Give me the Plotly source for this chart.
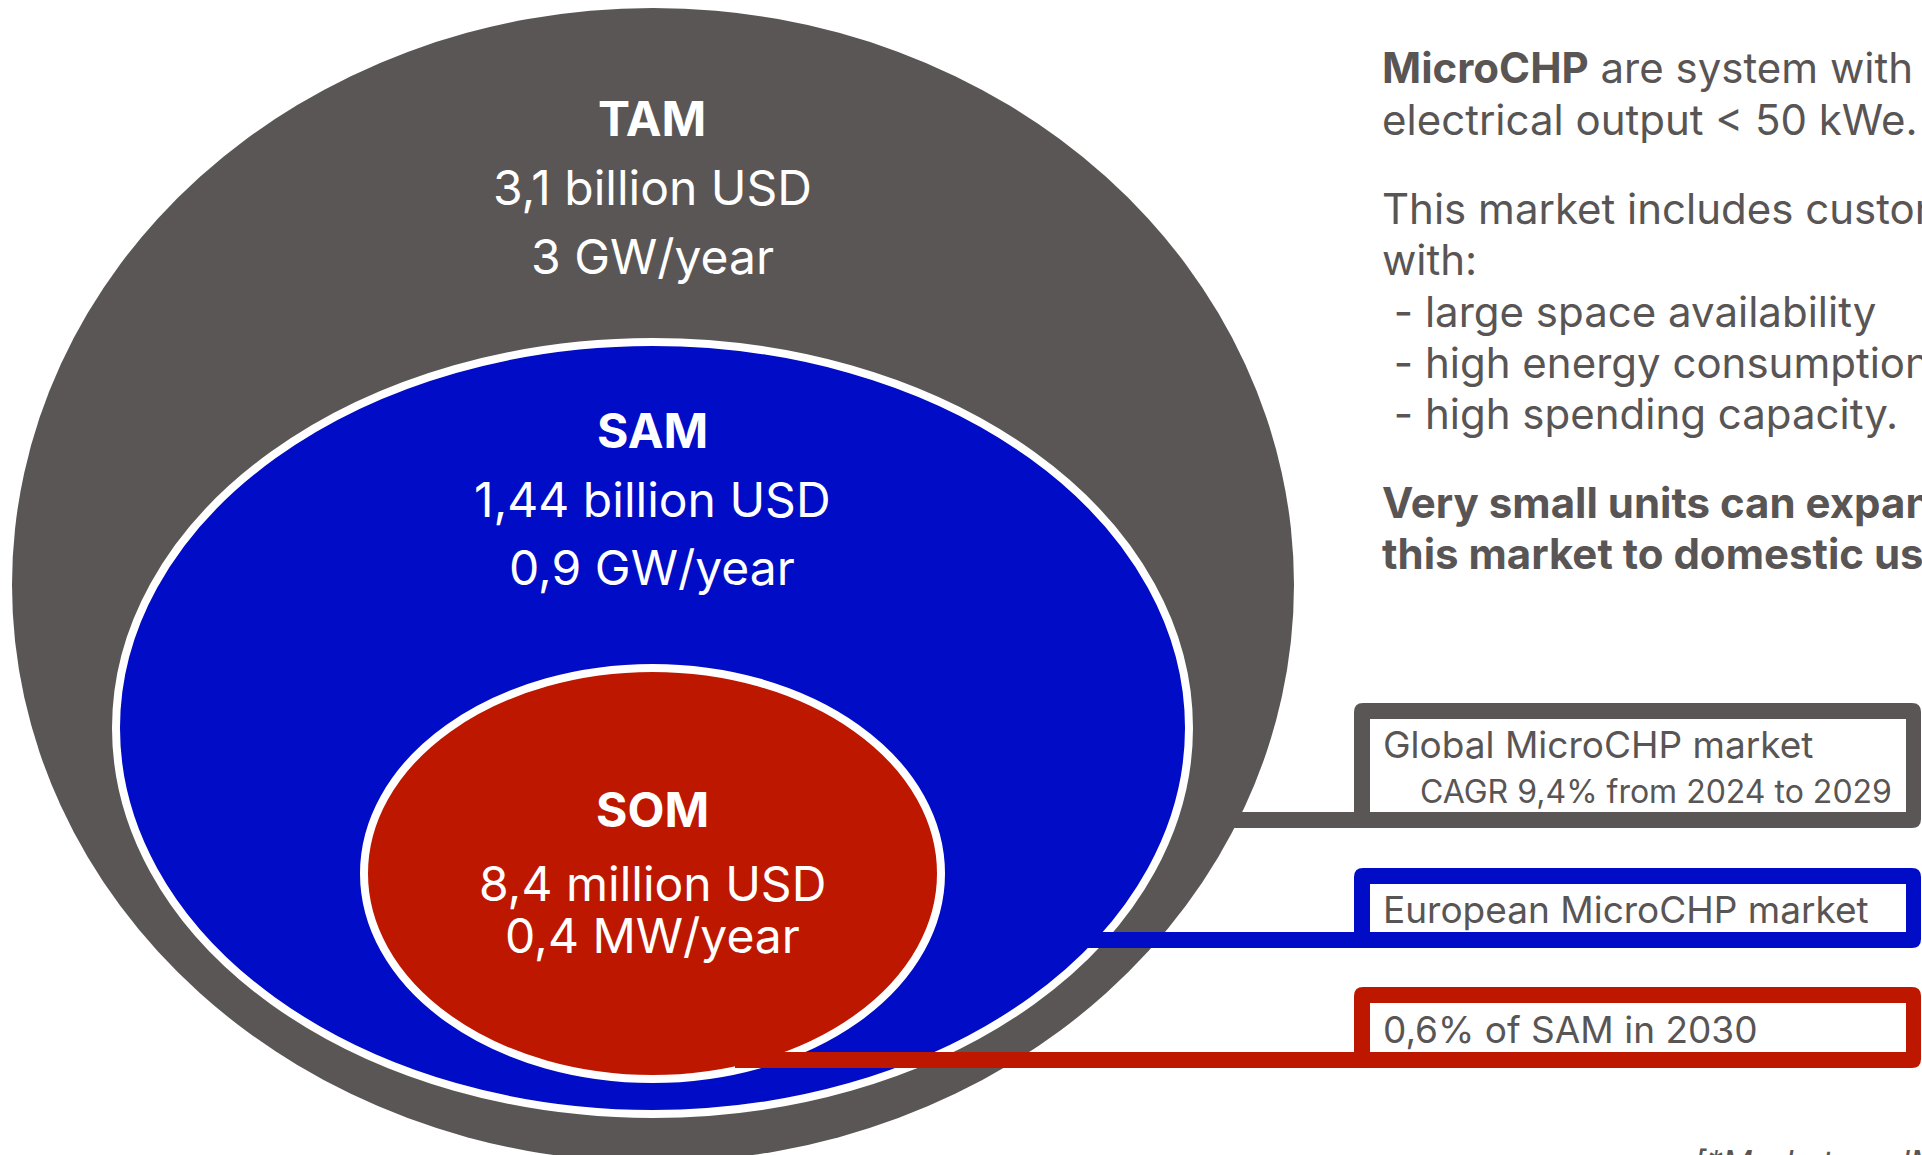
import plotly.graph_objects as go

# ---------------- data ----------------
segments = ["TAM", "SAM", "SOM"]
segment_values = ["3,1 billion USD", "1,44 billion USD", "8,4 million USD"]
segment_capacity = ["3 GW/year", "0,9 GW/year", "0,4 MW/year"]
segment_colors = ["#5A5655", "#000CC6", "#BE1700"]

box_titles = ["Global MicroCHP market", "European MicroCHP market", "0,6% of SAM in 2030"]
box_subtitles = ["CAGR 9,4% from 2024 to 2029", "", ""]

side_lines = [
    "<b>MicroCHP</b> are system with an",
    "electrical output < 50 kWe.",
    "This market includes customers",
    "with:",
    " - large space availability",
    " - high energy consumption",
    " - high spending capacity.",
    "<b>Very small units can expand</b>",
    "<b>this market to domestic use.</b>",
]
footnote = "<i>[*MarketsandMarkets]</i>"

# ---------------- layout constants ----------------
W, H = 1922, 1155
FONT = "Inter, 'Noto Sans', sans-serif"
TEXT_GRAY = "#595555"

# ellipse boxes (x0, y0, x1, y1) in pixel space
ellipses = [(12, 8, 1294, 1162), (116, 342, 1189, 1114), (364, 668, 941, 1079)]
outline_w = [0, 8, 8]

# text centre rows for each segment: title, value, capacity
text_rows = [(118, 187, 256), (430, 499, 567), (809, 883, 935)]
text_cx = 652

# callout boxes (outer)
box_x0, box_x1 = 1354, 1921
box_rows = [(703, 828), (868, 948), (987, 1068)]
stroke = 16
connector_x0 = [1225, 1088, 735]

fig = go.Figure()
shapes = []
for i, (x0, y0, x1, y1) in enumerate(ellipses):
    shapes.append(dict(type="circle", xref="x", yref="y", x0=x0, y0=y0, x1=x1, y1=y1,
                       fillcolor=segment_colors[i],
                       line=dict(color="white", width=outline_w[i]) if outline_w[i] else dict(width=0)))

def rounded(x0, y0, x1, y1, r):
    return (f"M {x0+r},{y0} L {x1-r},{y0} Q {x1},{y0} {x1},{y0+r} "
            f"L {x1},{y1-r} Q {x1},{y1} {x1-r},{y1} L {x0+r},{y1} "
            f"Q {x0},{y1} {x0},{y1-r} L {x0},{y0+r} Q {x0},{y0} {x0+r},{y0} Z")

for i, (y0, y1) in enumerate(box_rows):
    c = segment_colors[i]
    shapes.append(dict(type="rect", xref="x", yref="y", x0=connector_x0[i], x1=box_x0 + 10,
                       y0=y1 - stroke, y1=y1, fillcolor=c, line=dict(width=0)))
    shapes.append(dict(type="path", xref="x", yref="y", path=rounded(box_x0, y0, box_x1, y1, 9),
                       fillcolor=c, line=dict(width=0)))
    shapes.append(dict(type="rect", xref="x", yref="y", x0=box_x0 + stroke, x1=box_x1 - stroke + 1,
                       y0=y0 + stroke, y1=y1 - stroke, fillcolor="white", line=dict(width=0)))

annotations = []
for i, seg in enumerate(segments):
    ty, vy, cy = text_rows[i]
    annotations.append(dict(x=text_cx, y=ty, text=f"<b>{seg}</b>", showarrow=False,
                            font=dict(family=FONT, size=48, color="white"),
                            xanchor="center", yanchor="middle"))
    annotations.append(dict(x=text_cx, y=vy, text=segment_values[i], showarrow=False,
                            font=dict(family=FONT, size=48, color="white"),
                            xanchor="center", yanchor="middle"))
    annotations.append(dict(x=text_cx, y=cy, text=segment_capacity[i], showarrow=False,
                            font=dict(family=FONT, size=48, color="white"),
                            xanchor="center", yanchor="middle"))

box_title_y = [744, 909, 1029]
for i, t in enumerate(box_titles):
    annotations.append(dict(x=1381, y=box_title_y[i], text=t, showarrow=False,
                            font=dict(family=FONT, size=37, color=TEXT_GRAY),
                            xanchor="left", yanchor="middle"))
    if box_subtitles[i]:
        annotations.append(dict(x=1418, y=791, text=box_subtitles[i], showarrow=False,
                                font=dict(family=FONT, size=32, color=TEXT_GRAY),
                                xanchor="left", yanchor="middle"))

side_y = [67, 119, 208, 259, 311, 362, 413, 502, 553]
for t, y in zip(side_lines, side_y):
    annotations.append(dict(x=1380, y=y, text=t, showarrow=False,
                            font=dict(family=FONT, size=42, color=TEXT_GRAY),
                            xanchor="left", yanchor="middle"))

annotations.append(dict(x=1692, y=1140, text=footnote, showarrow=False,
                        font=dict(family=FONT, size=33, color=TEXT_GRAY),
                        xanchor="left", yanchor="top"))

fig.update_layout(
    width=W, height=H, margin=dict(l=0, r=0, t=0, b=0),
    paper_bgcolor="white", plot_bgcolor="white",
    xaxis=dict(range=[0, W], visible=False, fixedrange=True),
    yaxis=dict(range=[H, 0], visible=False, fixedrange=True),
    shapes=shapes, annotations=annotations, showlegend=False,
)
fig.write_html(
    "out.html",
    config={"displayModeBar": False},
    post_script="document.body.style.margin='0';document.body.style.overflow='hidden';",
)
